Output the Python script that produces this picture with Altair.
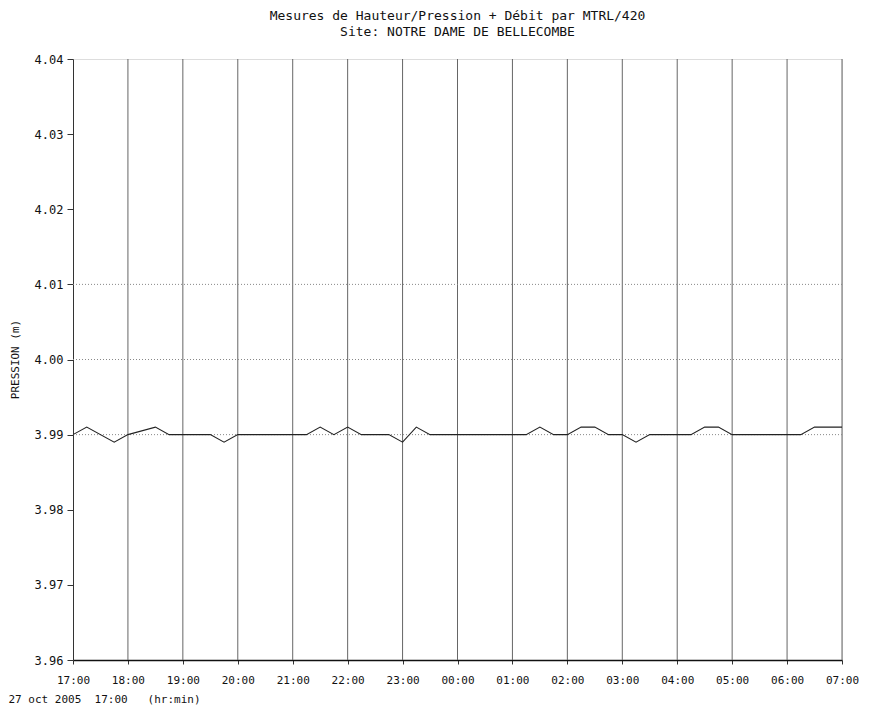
import altair as alt
import pandas as pd

# ---- data ----
times = [
    "2005-10-27T17:00", "2005-10-27T17:15", "2005-10-27T17:45", "2005-10-27T18:00",
    "2005-10-27T18:30", "2005-10-27T18:45", "2005-10-27T19:30", "2005-10-27T19:45",
    "2005-10-27T20:00", "2005-10-27T21:15", "2005-10-27T21:30", "2005-10-27T21:45",
    "2005-10-27T22:00", "2005-10-27T22:15", "2005-10-27T22:45", "2005-10-27T23:00",
    "2005-10-27T23:15", "2005-10-27T23:30", "2005-10-28T01:15", "2005-10-28T01:30",
    "2005-10-28T01:45", "2005-10-28T02:00", "2005-10-28T02:15", "2005-10-28T02:30",
    "2005-10-28T02:45", "2005-10-28T03:00", "2005-10-28T03:15", "2005-10-28T03:30",
    "2005-10-28T04:15", "2005-10-28T04:30", "2005-10-28T04:45", "2005-10-28T05:00",
    "2005-10-28T06:15", "2005-10-28T06:30", "2005-10-28T07:00",
]
pression = [
    3.990, 3.991, 3.989, 3.990,
    3.991, 3.990, 3.990, 3.989,
    3.990, 3.990, 3.991, 3.990,
    3.991, 3.990, 3.990, 3.989,
    3.991, 3.990, 3.990, 3.991,
    3.990, 3.990, 3.991, 3.991,
    3.990, 3.990, 3.989, 3.990,
    3.990, 3.991, 3.991, 3.990,
    3.990, 3.991, 3.991,
]
hour_ticks = [
    "2005-10-27T17:00", "2005-10-27T18:00", "2005-10-27T19:00", "2005-10-27T20:00",
    "2005-10-27T21:00", "2005-10-27T22:00", "2005-10-27T23:00", "2005-10-28T00:00",
    "2005-10-28T01:00", "2005-10-28T02:00", "2005-10-28T03:00", "2005-10-28T04:00",
    "2005-10-28T05:00", "2005-10-28T06:00", "2005-10-28T07:00",
]
y_ticks = [3.96, 3.97, 3.98, 3.99, 4.00, 4.01, 4.02, 4.03, 4.04]
h_grid = [3.99, 4.00, 4.01]
title_lines = ["Mesures de Hauteur/Pression + Débit par MTRL/420",
               "Site: NOTRE DAME DE BELLECOMBE"]
x_title = "27 oct 2005\u00a0\u00a017:00\u00a0\u00a0\u00a0(hr:min)"
y_title = "PRESSION (m)"

FONT = "DejaVu Sans Mono"

df = pd.DataFrame({"t": pd.to_datetime(times), "p": pression})
grid_df = pd.DataFrame({"p": h_grid})
vgrid_df = pd.DataFrame({"t": pd.to_datetime(hour_ticks[1:])})

tick_dt = [alt.DateTime(year=int(s[0:4]), month=int(s[5:7]), date=int(s[8:10]),
                        hours=int(s[11:13]), minutes=int(s[14:16])) for s in hour_ticks]

x_scale = alt.Scale(domain=[tick_dt[0], tick_dt[-1]])
y_scale = alt.Scale(domain=[3.96, 4.04], nice=False, zero=False)

x_enc = alt.X("t:T", scale=x_scale,
              axis=alt.Axis(values=tick_dt, format="%H:%M", title=x_title,
                            grid=False, domainColor="#111", domainWidth=1.5,
                            tickColor="#333", tickSize=4, labelPadding=10,
                            labelFont=FONT, labelFontSize=11, labelColor="#111",
                            titleFont=FONT, titleFontSize=11, titleFontWeight="normal",
                            titleColor="#111", titleAnchor="start", titleAlign="left",
                            titleX=-65, titleY=42, titleBaseline="alphabetic",
                            labelFlush=False, labelOverlap=False))
y_enc = alt.Y("p:Q", scale=y_scale,
              axis=alt.Axis(values=y_ticks, format=".2f", title=y_title,
                            grid=False, domainColor="#333", domainWidth=1,
                            tickColor="#333", tickSize=6, labelPadding=4,
                            labelFont=FONT, labelFontSize=12, labelColor="#111",
                            titleFont=FONT, titleFontSize=11, titleFontWeight="normal",
                            titleColor="#111", titleAngle=-90, titleX=-58, titleY=300,
                            titleAlign="center", titleBaseline="middle"))

vgrid = alt.Chart(vgrid_df).mark_rule(color="#666", strokeWidth=1).encode(
    x=alt.X("t:T", scale=x_scale))

hgrid = alt.Chart(grid_df).mark_rule(color="#888", strokeWidth=1, strokeDash=[1, 2]).encode(
    y=alt.Y("p:Q", scale=y_scale))

line = alt.Chart(df).mark_line(color="#222", strokeWidth=1.1, interpolate="linear").encode(
    x=x_enc, y=y_enc)

chart = alt.layer(vgrid, hgrid, line).properties(
    width=769, height=601,
    title=alt.TitleParams(text=title_lines, font=FONT, fontSize=13, fontWeight="normal",
                          color="#111", anchor="middle", offset=14, lineHeight=16),
    autosize=alt.AutoSizeParams(type="none"),
    padding={"left": 65, "top": 51, "right": 20, "bottom": 50},
).configure_view(stroke=None).configure(background="white")

chart.save("out.html", embed_options={"renderer": "svg", "actions": False})
